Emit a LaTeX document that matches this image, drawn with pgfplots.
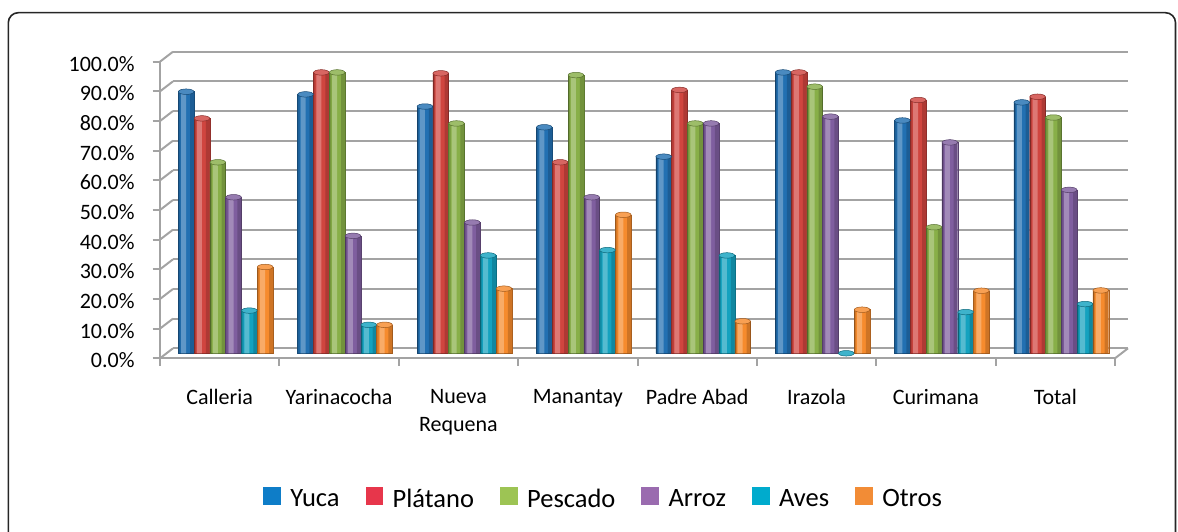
\documentclass[border=0pt]{standalone}
\usepackage{fontspec}
\setmainfont{Carlito}
\usepackage{pgfplots}
\usepackage{pgfplotstable}
\pgfplotsset{compat=1.18}
\usetikzlibrary{shapes.geometric}

\definecolor{gridc}{HTML}{A3A3A3}
\definecolor{bYuca}{HTML}{2270B2}
\definecolor{bPlat}{HTML}{D0453F}
\definecolor{bPesc}{HTML}{88AF48}
\definecolor{bArro}{HTML}{7F5E9F}
\definecolor{bAves}{HTML}{14A2BF}
\definecolor{bOtro}{HTML}{F68B2D}
\definecolor{lYuca}{HTML}{0E7DC8}
\definecolor{lPlat}{HTML}{E7364B}
\definecolor{lPesc}{HTML}{9DC454}
\definecolor{lArro}{HTML}{9A6BAF}
\definecolor{lAves}{HTML}{00ABCD}
\definecolor{lOtro}{HTML}{F28C36}

\pgfplotstableread{
x Yuca Platano Pescado Arroz Aves Otros
0 88.2 79.2 64.4 52.6 14.4 29.1
1 87.3 94.7 94.7 39.6  9.6  9.6
2 83.2 94.4 77.5 44.1 33.0 21.8
3 76.2 64.4 93.8 52.6 34.8 46.7
4 66.3 88.8 77.5 77.5 33.0 10.8
5 94.7 94.7 89.9 79.8  0.0 14.7
6 78.5 85.4 42.5 71.1 13.9 21.1
7 84.6 86.5 79.5 55.1 16.6 21.2
}\data

\pgfplotsset{
  sh/.style={xshift=6bp, yshift=5bp},
}

% #1 column, #2 bar colour, #3 legend colour, #4 bar shift (bp), #5 legend text
\newcommand\series[5]{%
  \addplot[sh, fill=#2, draw=#2!70!black, line width=0.4bp, bar width=15.8bp, bar shift=#4bp,
    legend image code/.code={\fill[#3] (0bp,-9.8bp) rectangle (16.7bp,6.9bp);}]
    table[x=x,y=#1] {\data};
  \addlegendentry{#5}
  \addplot[sh, forget plot, fill=white, fill opacity=0.28, draw=none, bar width=5bp, bar shift=#4bp-2.5bp]
    table[x=x,y=#1] {\data};
  \addplot[sh, forget plot, fill=black, fill opacity=0.16, draw=none, bar width=4bp, bar shift=#4bp+5.9bp]
    table[x=x,y=#1] {\data};
  \addplot[sh, forget plot, fill=black, fill opacity=0.14, draw=none, bar width=2bp, bar shift=#4bp-6.9bp]
    table[x=x,y=#1] {\data};
  \addplot[sh, forget plot, fill=none, draw=none, bar width=15.8bp, bar shift=#4bp,
    nodes near coords={},
    every node near coord/.append style={ellipse, inner sep=0pt, minimum width=15.6bp, minimum height=5.5bp,
      fill=#2!82!white, draw=#2!65!black, line width=0.5bp, anchor=center, fill opacity=1, draw opacity=1}]
    table[x=x,y=#1] {\data};
}

\begin{document}
\begin{tikzpicture}
\useasboundingbox (0,0) rectangle (1178bp,532bp);
\draw[line width=1.6bp, draw=black!85, rounded corners=10bp] (8.3bp,-40bp) rectangle (1175.5bp,519.3bp);
\begin{axis}[
  at={(160bp,173.7bp)}, anchor=south west,
  scale only axis, width=955bp, height=296.6bp,
  xmin=-0.5, xmax=7.5, ymin=0, ymax=100,
  ybar=0pt,
  axis x line*=bottom, axis y line*=left,
  axis line style={draw=gridc, line width=2bp, -},
  tick style={draw=gridc, line width=2bp},
  tick align=outside, major tick length=7.3bp,
  xtick={-0.5,0.5,...,7.5}, xticklabels={},
  extra x ticks={0,1,2,3,4,5,6,7},
  extra x tick labels={Calleria,Yarinacocha,{Nueva\\Requena},Manantay,Padre Abad,Irazola,Curimana,Total},
  extra x tick style={major tick length=0pt, grid=none,
    xticklabel style={anchor=north, inner sep=0pt, yshift=-31bp, align=center,
      font=\fontsize{22bp}{28bp}\selectfont}},
  ytick={0,10,...,100},
  yticklabels={0.0\%,10.0\%,20.0\%,30.0\%,40.0\%,50.0\%,60.0\%,70.0\%,80.0\%,90.0\%,100.0\%},
  yticklabel style={anchor=east, inner sep=0pt, xshift=-18bp, yshift=-2bp, font=\fontsize{22bp}{27bp}\selectfont},
  ymajorgrids=true,
  major grid style={draw=gridc, line width=2bp, xshift=13bp, yshift=10bp},
  clip=false,
  legend columns=6,
  legend style={at={(0.4634,-0.471)}, anchor=center, draw=none, fill=none,
    font=\fontsize{26.5bp}{32bp}\selectfont,
    nodes={inner sep=0pt},
    /tikz/every odd column/.style={column sep=10bp},
    /tikz/every even column/.style={column sep=26bp}},
  legend cell align=left,
]
\pgfplotsinvokeforeach{0,10,...,100}{\draw[gridc, line width=2bp] (axis cs:-0.5,#1) -- ++(13bp,10bp);}
\draw[gridc, line width=2bp] (axis cs:7.5,0) -- ++(13bp,10bp);
\series{Yuca}{bYuca}{lYuca}{-39.5}{Yuca}
\series{Platano}{bPlat}{lPlat}{-23.7}{Plátano}
\series{Pescado}{bPesc}{lPesc}{-7.9}{Pescado}
\series{Arroz}{bArro}{lArro}{7.9}{Arroz}
\series{Aves}{bAves}{lAves}{23.7}{Aves}
\series{Otros}{bOtro}{lOtro}{39.5}{Otros}
\end{axis}
\end{tikzpicture}
\end{document}
